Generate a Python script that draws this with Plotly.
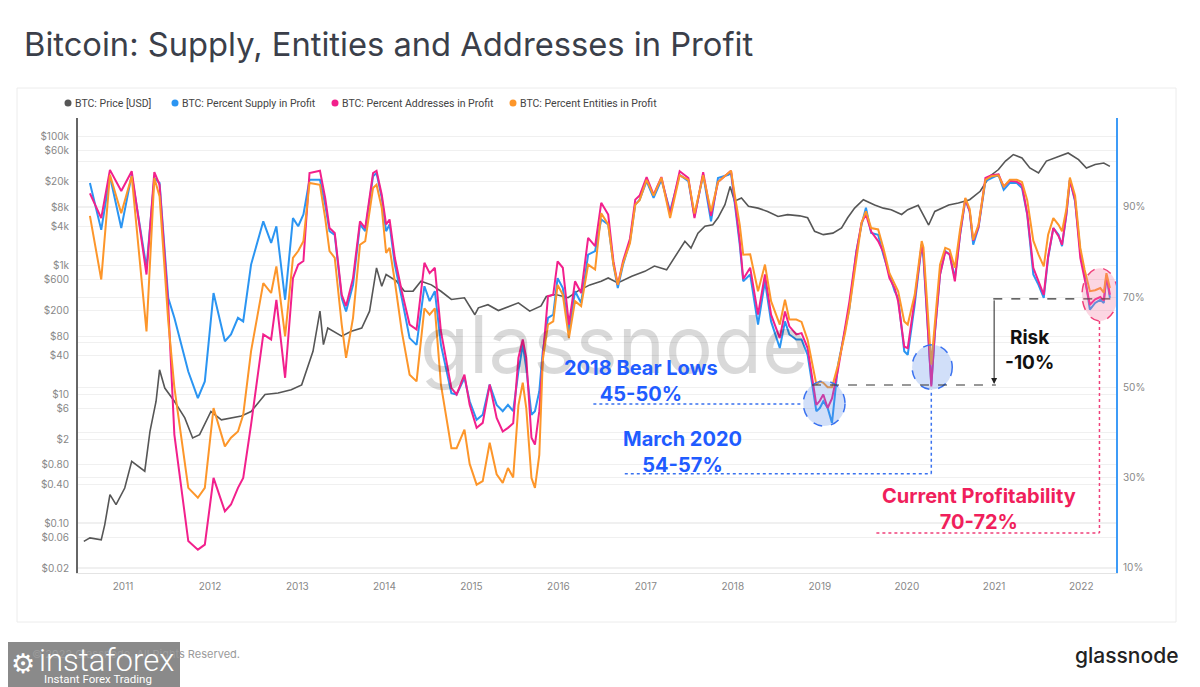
import pandas as pd
import plotly.graph_objects as go

# ---------------- data ----------------
pct_t = [2010.62, 2010.75, 2010.85, 2010.98, 2011.10, 2011.27, 2011.36, 2011.42, 2011.52, 2011.59,
         2011.75, 2011.86, 2011.94, 2012.04, 2012.17, 2012.24, 2012.32, 2012.38, 2012.47, 2012.61,
         2012.70, 2012.76, 2012.86, 2012.95, 2013.01, 2013.07, 2013.14, 2013.26, 2013.32, 2013.37,
         2013.43, 2013.51, 2013.56, 2013.64, 2013.72, 2013.78, 2013.87, 2013.91, 2013.97, 2014.02,
         2014.06, 2014.12, 2014.20, 2014.29, 2014.37, 2014.46, 2014.52, 2014.58, 2014.65, 2014.77,
         2014.83, 2014.92, 2014.98, 2015.06, 2015.13, 2015.21, 2015.29, 2015.36, 2015.42, 2015.48,
         2015.54, 2015.59, 2015.63, 2015.69, 2015.73, 2015.78, 2015.82, 2015.88, 2015.94, 2015.99,
         2016.05, 2016.12, 2016.19, 2016.26, 2016.34, 2016.42, 2016.49, 2016.57, 2016.63, 2016.68,
         2016.74, 2016.82, 2016.88, 2016.93, 2017.01, 2017.09, 2017.18, 2017.28, 2017.39, 2017.49,
         2017.56, 2017.66, 2017.75, 2017.83, 2017.95, 2017.98, 2018.02, 2018.08, 2018.12, 2018.20,
         2018.29, 2018.37, 2018.44, 2018.54, 2018.60, 2018.65, 2018.73, 2018.79, 2018.86, 2018.96,
         2019.00, 2019.04, 2019.09, 2019.14, 2019.21, 2019.29, 2019.34, 2019.42, 2019.48, 2019.53,
         2019.59, 2019.67, 2019.73, 2019.80, 2019.86, 2019.90, 2019.97, 2020.01, 2020.09, 2020.17,
         2020.19, 2020.28, 2020.32, 2020.38, 2020.44, 2020.49, 2020.55, 2020.61, 2020.67, 2020.72,
         2020.76, 2020.82, 2020.90, 2020.97, 2021.05, 2021.11, 2021.18, 2021.26, 2021.32, 2021.38,
         2021.45, 2021.51, 2021.57, 2021.62, 2021.68, 2021.74, 2021.78, 2021.83, 2021.87, 2021.93,
         2021.99, 2022.04, 2022.10, 2022.16, 2022.22, 2022.26, 2022.29, 2022.33]

supply_pct = [95.3, 84.9, 96.8, 85.3, 97.1, 76.5, 96.4, 95.3, 69.8, 65.4,
              53.5, 47.6, 51.3, 70.9, 60.2, 61.7, 65.4, 64.6, 77.2, 86.8,
              82.0, 85.7, 69.4, 87.5, 85.7, 88.3, 96.0, 96.0, 90.5, 84.6,
              83.8, 69.8, 66.8, 72.7, 86.1, 84.6, 96.8, 97.5, 92.0, 84.6,
              86.1, 77.2, 69.8, 60.9, 59.4, 72.4, 69.1, 71.3, 59.4, 48.7,
              48.4, 52.1, 46.9, 42.8, 43.9, 50.6, 46.1, 44.7, 46.1, 44.7,
              53.5, 59.4, 54.3, 43.9, 44.7, 49.1, 58.0, 65.4, 66.1, 74.2,
              72.0, 62.4, 71.3, 68.7, 79.4, 80.2, 87.2, 86.1, 77.2, 72.0,
              77.2, 82.4, 90.5, 91.6, 95.7, 92.0, 96.0, 89.0, 97.1, 95.7,
              87.9, 97.1, 86.8, 96.4, 97.1, 97.5, 91.2, 81.6, 73.5, 75.0,
              63.9, 73.5, 64.6, 58.7, 64.6, 61.7, 60.6, 60.6, 57.2, 44.7,
              45.4, 46.9, 45.4, 42.1, 55.0, 63.1, 67.5, 80.2, 86.1, 89.8,
              84.2, 83.8, 79.4, 75.0, 71.3, 69.8, 58.0, 57.2, 68.3, 81.6,
              78.7, 50.6, 61.7, 75.0, 80.2, 79.4, 74.2, 83.8, 91.6, 89.0,
              81.6, 85.3, 95.7, 96.4, 97.1, 93.8, 95.3, 95.3, 94.2, 88.3,
              75.0, 72.7, 69.8, 78.7, 85.3, 83.8, 81.3, 88.3, 96.0, 91.2,
              80.2, 75.0, 67.2, 68.7, 69.4, 68.7, 74.6, 69.8]

addresses_pct = [93.0, 87.5, 98.2, 93.5, 97.9, 75.0, 97.7, 94.9, 68.0, 39.5,
                 15.9, 14.0, 15.1, 29.9, 22.5, 24.0, 27.7, 29.9, 41.7, 61.7,
                 60.6, 69.4, 52.1, 74.2, 77.2, 78.0, 97.5, 98.0, 92.0, 85.3,
                 84.2, 70.5, 68.0, 74.2, 86.8, 85.3, 97.5, 98.0, 92.7, 86.1,
                 87.2, 78.7, 71.3, 63.9, 62.8, 77.6, 75.3, 76.5, 62.4, 49.8,
                 48.4, 52.8, 46.1, 41.0, 42.1, 50.6, 43.2, 40.2, 41.0, 42.0,
                 56.5, 60.6, 56.5, 38.8, 37.3, 44.7, 56.5, 70.2, 70.5, 77.9,
                 76.5, 63.9, 73.5, 70.9, 83.1, 81.3, 90.9, 88.3, 77.9, 72.7,
                 78.0, 83.0, 91.6, 92.5, 96.6, 92.7, 96.6, 88.3, 97.9, 96.4,
                 87.5, 97.7, 88.0, 95.5, 97.5, 98.0, 92.0, 82.5, 74.0, 76.5,
                 66.1, 75.0, 66.1, 60.9, 66.8, 63.5, 61.7, 62.0, 58.7, 46.1,
                 47.0, 48.4, 45.4, 47.5, 54.0, 63.0, 69.0, 80.0, 86.5, 88.3,
                 84.5, 82.4, 80.0, 74.2, 72.0, 69.0, 59.0, 58.7, 69.5, 81.6,
                 79.5, 50.2, 62.0, 75.0, 80.0, 79.5, 73.5, 84.0, 91.8, 89.0,
                 82.5, 85.5, 96.4, 97.0, 97.2, 94.5, 95.8, 95.6, 94.8, 88.5,
                 76.5, 73.5, 70.5, 79.0, 85.3, 83.5, 81.6, 88.5, 96.0, 91.5,
                 78.7, 74.0, 68.3, 69.5, 70.0, 69.2, 74.8, 70.5]

entities_pct = [88.0, 73.9, 97.1, 88.6, 96.8, 62.4, 96.4, 92.3, 64.6, 50.0,
                27.7, 25.5, 27.7, 45.4, 36.9, 38.8, 40.2, 43.9, 58.0, 73.1,
                70.9, 76.8, 61.3, 78.7, 80.2, 82.4, 95.3, 94.9, 87.5, 80.2,
                78.7, 63.9, 56.5, 65.4, 81.6, 82.4, 94.2, 94.9, 89.8, 79.8,
                80.9, 73.5, 62.4, 52.8, 51.3, 67.5, 66.1, 67.5, 50.6, 36.5,
                36.5, 40.6, 33.0, 28.4, 29.2, 37.7, 30.7, 28.8, 32.1, 30.0,
                46.0, 51.0, 45.4, 29.9, 27.7, 35.0, 56.0, 63.9, 64.6, 72.7,
                70.5, 60.9, 69.1, 68.0, 77.2, 76.1, 88.6, 86.1, 77.2, 72.7,
                77.5, 82.0, 90.5, 91.5, 96.0, 92.5, 96.5, 87.5, 97.0, 96.0,
                88.5, 97.0, 89.0, 95.5, 97.5, 98.0, 93.0, 86.0, 79.4, 79.5,
                71.3, 77.2, 69.1, 63.9, 69.4, 65.0, 65.0, 64.5, 60.5, 50.6,
                51.3, 51.0, 50.0, 50.0, 55.0, 62.0, 67.5, 79.0, 86.5, 89.0,
                85.3, 85.0, 80.9, 75.3, 72.7, 71.3, 64.6, 63.9, 70.5, 82.4,
                81.0, 55.0, 64.0, 77.2, 80.9, 80.5, 76.5, 85.0, 92.0, 89.5,
                82.7, 86.0, 96.0, 96.8, 97.0, 94.5, 96.0, 96.0, 95.5, 91.5,
                82.5, 79.4, 76.8, 83.8, 87.5, 86.0, 84.6, 89.5, 96.5, 92.5,
                80.9, 76.0, 71.3, 71.5, 72.0, 71.0, 75.3, 72.0]

price_t = [2010.55, 2010.62, 2010.75, 2010.79, 2010.85, 2010.92, 2011.02, 2011.10, 2011.25, 2011.31,
           2011.38, 2011.42, 2011.48, 2011.59, 2011.71, 2011.80, 2011.88, 2012.01, 2012.13, 2012.36,
           2012.47, 2012.63, 2012.78, 2012.93, 2013.05, 2013.18, 2013.26, 2013.30, 2013.35, 2013.51,
           2013.62, 2013.74, 2013.83, 2013.91, 2013.97, 2014.02, 2014.14, 2014.23, 2014.33, 2014.42,
           2014.54, 2014.65, 2014.77, 2014.92, 2015.04, 2015.08, 2015.19, 2015.31, 2015.54, 2015.67,
           2015.80, 2015.86, 2015.97, 2016.11, 2016.22, 2016.36, 2016.49, 2016.57, 2016.68, 2016.84,
           2016.99, 2017.10, 2017.24, 2017.33, 2017.45, 2017.52, 2017.60, 2017.68, 2017.77, 2017.83,
           2017.91, 2017.97, 2018.02, 2018.10, 2018.18, 2018.29, 2018.40, 2018.52, 2018.63, 2018.77,
           2018.86, 2018.94, 2019.04, 2019.15, 2019.25, 2019.32, 2019.40, 2019.50, 2019.63, 2019.73,
           2019.82, 2019.94, 2020.01, 2020.13, 2020.21, 2020.25, 2020.32, 2020.48, 2020.59, 2020.72,
           2020.84, 2020.95, 2021.05, 2021.13, 2021.22, 2021.32, 2021.41, 2021.51, 2021.60, 2021.70,
           2021.85, 2021.97, 2022.06, 2022.16, 2022.26, 2022.33]

price_usd = [0.052, 0.059, 0.055, 0.094, 0.276, 0.193, 0.35, 0.91, 0.64, 2.66,
             7.8, 24, 12.5, 7.8, 4.3, 2.1, 2.36, 5.4, 4.0, 4.6,
             5.4, 9.9, 10.5, 11.8, 14, 46.5, 195, 59, 107, 80,
             95, 107, 195, 915, 477, 725, 570, 398, 400, 570,
             500, 398, 297, 315, 172, 220, 246, 200, 263, 195,
             235, 330, 355, 316, 400, 500, 570, 640, 535, 680,
             810, 980, 855, 1320, 2380, 1860, 3170, 4070, 4300, 5500,
             8770, 16900, 9950, 11200, 8300, 7770, 6900, 5770, 6150, 5900,
             5500, 3400, 3010, 3180, 3820, 5500, 7770, 10500, 8700, 7770,
             7350, 6200, 7350, 8600, 5500, 4250, 6900, 8700, 9350, 10500,
             14200, 24300, 30900, 41800, 52700, 46800, 32700, 27300, 41800, 46800,
             55800, 44000, 32700, 36900, 39000, 34600]

years = list(range(2011, 2023))
price_ticks = [100000, 60000, 20000, 8000, 4000, 1000, 600, 200, 80, 40, 10, 6, 2, 0.8, 0.4, 0.1, 0.06, 0.02]
price_tick_text = ["$100k", "$60k", "$20k", "$8k", "$4k", "$1k", "$600", "$200", "$80", "$40",
                   "$10", "$6", "$2", "$0.80", "$0.40", "$0.10", "$0.06", "$0.02"]
pct_ticks = [10, 20, 30, 40, 50, 60, 70, 80, 90, 100]
pct_tick_text = ["10%", "", "30%", "", "50%", "", "70%", "", "90%", ""]

series_names = ["BTC: Price [USD]", "BTC: Percent Supply in Profit",
                "BTC: Percent Addresses in Profit", "BTC: Percent Entities in Profit"]
C_PRICE = "#565656"
C_SUPPLY = "#2b95f2"
C_ADDR = "#f2208c"
C_ENT = "#fd962a"
series_colors = [C_PRICE, C_SUPPLY, C_ADDR, C_ENT]
C_BLUE_TXT = "#1f5cff"
C_PINK_TXT = "#f01f5c"


def to_date(t):
    y = int(t)
    start = pd.Timestamp(year=y, month=1, day=1)
    end = pd.Timestamp(year=y + 1, month=1, day=1)
    return start + (end - start) * (t - y)


pct_dates = [to_date(t) for t in pct_t]
price_dates = [to_date(t) for t in price_t]

fig = go.Figure()
fig.add_trace(go.Scatter(x=price_dates, y=price_usd, mode="lines", line=dict(color=C_PRICE, width=1.6),
                         name=series_names[0], yaxis="y"))
fig.add_trace(go.Scatter(x=pct_dates, y=supply_pct, mode="lines", line=dict(color=C_SUPPLY, width=2),
                         name=series_names[1], yaxis="y2"))
fig.add_trace(go.Scatter(x=pct_dates, y=addresses_pct, mode="lines", line=dict(color=C_ADDR, width=2),
                         name=series_names[2], yaxis="y2"))
fig.add_trace(go.Scatter(x=pct_dates, y=entities_pct, mode="lines", line=dict(color=C_ENT, width=2),
                         name=series_names[3], yaxis="y2"))

# the page body has an 8px default margin: the figure is drawn 8px right / down
OFF = 8
FIG_W, FIG_H = 1200 - OFF, 687 - OFF
# plot area in page pixels
PL, PR, PT, PB = 78, 1116, 118, 573


def px_x(p):  # page pixel -> paper x
    return (p - PL) / float(PR - PL)


def px_y(p):  # page pixel -> paper y
    return (PB - p) / float(PB - PT)


shapes = []
annotations = []

# card border
shapes.append(dict(type="rect", xref="paper", yref="paper", x0=px_x(17), x1=px_x(1176), y0=px_y(622), y1=px_y(88),
                   line=dict(color="#ececec", width=1), fillcolor="rgba(0,0,0,0)", layer="below"))

# legend built from dots + labels
legend_x = [68, 175, 335, 513]
for lx, name, col in zip(legend_x, series_names, series_colors):
    shapes.append(dict(type="circle", xref="paper", yref="paper",
                       x0=px_x(lx - 3.5), x1=px_x(lx + 3.5), y0=px_y(103 + 3.5), y1=px_y(103 - 3.5),
                       fillcolor=col, line=dict(width=0)))
    annotations.append(dict(text=name, xref="paper", yref="paper", x=px_x(lx + 5), y=px_y(103.5),
                            xanchor="left", yanchor="middle", showarrow=False,
                            font=dict(size=10.5, color="#444444", family="Roboto")))

BLUE_LINE = "#3a72f0"
# 2018 bear lows
shapes.append(dict(type="line", xref="x", yref="y2", x0=to_date(2016.40), x1=to_date(2018.81), y0=46.3, y1=46.3,
                   line=dict(color=BLUE_LINE, width=1.5, dash="dot")))
shapes.append(dict(type="circle", xref="x", yref="y2", x0=to_date(2018.81), x1=to_date(2019.29), y0=41.4, y1=51.4,
                   fillcolor="rgba(90,140,235,0.28)", line=dict(color=BLUE_LINE, width=1.5, dash="dash")))
# March 2020
shapes.append(dict(type="line", xref="x", yref="y2", x0=to_date(2016.76), x1=to_date(2020.28), y0=30.8, y1=30.8,
                   line=dict(color=BLUE_LINE, width=1.5, dash="dot")))
shapes.append(dict(type="line", xref="x", yref="y2", x0=to_date(2020.28), x1=to_date(2020.28), y0=30.8, y1=49.5,
                   line=dict(color=BLUE_LINE, width=1.5, dash="dot")))
shapes.append(dict(type="circle", xref="x", yref="y2", x0=to_date(2020.06), x1=to_date(2020.52), y0=49.5, y1=59.4,
                   fillcolor="rgba(90,140,235,0.28)", line=dict(color=BLUE_LINE, width=1.5, dash="dash")))
# risk lines
shapes.append(dict(type="line", xref="x", yref="y2", x0=to_date(2018.91), x1=to_date(2021.02), y0=50.5, y1=50.5,
                   line=dict(color="#333333", width=1.2, dash="dash")))
shapes.append(dict(type="line", xref="x", yref="y2", x0=to_date(2020.99), x1=to_date(2022.40), y0=69.6, y1=69.6,
                   line=dict(color="#333333", width=1.2, dash="dash")))
# current profitability
shapes.append(dict(type="circle", xref="x", yref="y2", x0=to_date(2022.01), x1=to_date(2022.42), y0=64.7, y1=76.4,
                   fillcolor="rgba(245,120,160,0.30)", line=dict(color="#f0407a", width=1.5, dash="dash")))
shapes.append(dict(type="line", xref="x", yref="y2", x0=to_date(2022.21), x1=to_date(2022.21), y0=64.7, y1=17.7,
                   line=dict(color="#f0407a", width=1.5, dash="dot")))
shapes.append(dict(type="line", xref="x", yref="y2", x0=to_date(2019.65), x1=to_date(2022.21), y0=17.7, y1=17.7,
                   line=dict(color="#f0407a", width=1.5, dash="dot")))
# instaforex badge
shapes.append(dict(type="rect", xref="paper", yref="paper", x0=px_x(OFF), x1=px_x(180), y0=px_y(690), y1=px_y(642),
                   line=dict(width=0), fillcolor="#8a8a8a"))

annotations.append(dict(text="glassnode", xref="x", yref="y2", x=to_date(2016.64), y=59.8, showarrow=False,
                        font=dict(size=80, color="rgba(0,0,0,0.15)", family="Inter, Roboto, Arial")))
bold_font = "Inter, Roboto, Arial"
annotations.append(dict(text="2018 Bear Lows<br>45-50%", xref="x", yref="y2", x=to_date(2016.95), y=51.5,
                        showarrow=False, align="center",
                        font=dict(size=20, color=C_BLUE_TXT, family=bold_font, weight="bold")))
annotations.append(dict(text="March 2020<br>54-57%", xref="x", yref="y2", x=to_date(2017.42), y=35.65,
                        showarrow=False, align="center",
                        font=dict(size=20, color=C_BLUE_TXT, family=bold_font, weight="bold")))
annotations.append(dict(text="Risk<br>-10%", xref="x", yref="y2", x=to_date(2021.41), y=58.2,
                        showarrow=False, align="center",
                        font=dict(size=19, color="#111111", family=bold_font, weight="bold")))
annotations.append(dict(text="Current Profitability<br>70-72%", xref="x", yref="y2", x=to_date(2020.83), y=23.06,
                        showarrow=False, align="center",
                        font=dict(size=20, color=C_PINK_TXT, family=bold_font, weight="bold")))
# risk arrow
annotations.append(dict(text="", xref="x", yref="y2", axref="x", ayref="y2", x=to_date(2021.0), y=50.7,
                        ax=to_date(2021.0), ay=69.6, showarrow=True, arrowhead=2, arrowsize=1.2, arrowwidth=1,
                        arrowcolor="#222222"))
# footer
annotations.append(dict(text="\u00a9 2022 Glassnode. All Rights Reserved.", xref="paper", yref="paper",
                        x=px_x(30), y=px_y(654), xanchor="left", yanchor="middle", showarrow=False,
                        font=dict(size=11, color="#9a9a9a")))
annotations.append(dict(text="glassnode", xref="paper", yref="paper", x=px_x(1180), y=px_y(655),
                        xanchor="right", yanchor="middle", showarrow=False,
                        font=dict(size=21, color="#222222", family="Inter, Roboto, Arial", weight=500)))
annotations.append(dict(text="\u2699", xref="paper", yref="paper", x=px_x(23), y=px_y(663),
                        xanchor="center", yanchor="middle", showarrow=False,
                        font=dict(size=27, color="white", family="DejaVu Sans")))
annotations.append(dict(text="instaforex", xref="paper", yref="paper", x=px_x(37), y=px_y(660),
                        xanchor="left", yanchor="middle", showarrow=False,
                        font=dict(size=31, color="white", family="Roboto", weight=300)))
annotations.append(dict(text="Instant Forex Trading", xref="paper", yref="paper", x=px_x(42), y=px_y(679),
                        xanchor="left", yanchor="middle", showarrow=False,
                        font=dict(size=11.5, color="white", family="Roboto")))

fig.update_layout(
    width=FIG_W, height=FIG_H,
    margin=dict(l=PL - OFF, r=FIG_W - (PR - OFF), t=PT - OFF, b=FIG_H - (PB - OFF), autoexpand=False),
    paper_bgcolor="white", plot_bgcolor="white",
    font=dict(family="Inter, Roboto, Arial", color="#555555"),
    title=dict(text="Bitcoin: Supply, Entities and Addresses in Profit", x=(24 - OFF) / FIG_W, xanchor="left",
               y=1 - (45 - OFF) / FIG_H, yanchor="middle", font=dict(size=32.7, color="#3b3f4a")),
    showlegend=False,
    xaxis=dict(type="date", range=[to_date(2010.483), to_date(2022.40)],
               tickvals=[to_date(y) for y in years], ticktext=[str(y) for y in years],
               showgrid=False, showline=True, linecolor="#e4e4e4", linewidth=1, ticks="",
               tickfont=dict(size=10, color="#888888"), zeroline=False, automargin=False,
               ticklabelstandoff=4),
    yaxis=dict(type="log", range=[-1.775, 5.29], tickvals=price_ticks, ticktext=price_tick_text,
               showline=True, linecolor="#666666", linewidth=2, showgrid=True, gridcolor="#f0f0f0",
               ticks="", tickfont=dict(size=10, color="#888888"), zeroline=False, automargin=False,
               ticklabelstandoff=5),
    yaxis2=dict(overlaying="y", side="right", range=[8.82, 109.7], tickvals=pct_ticks, ticktext=pct_tick_text,
                showline=True, linecolor="#3d9bf7", linewidth=2, showgrid=True, gridcolor="#f0f0f0",
                ticks="", tickfont=dict(size=10, color="#888888"), zeroline=False, automargin=False,
                ticklabelstandoff=3),
    shapes=shapes,
    annotations=annotations,
    hovermode=False,
)

fig.write_html("out.html")
